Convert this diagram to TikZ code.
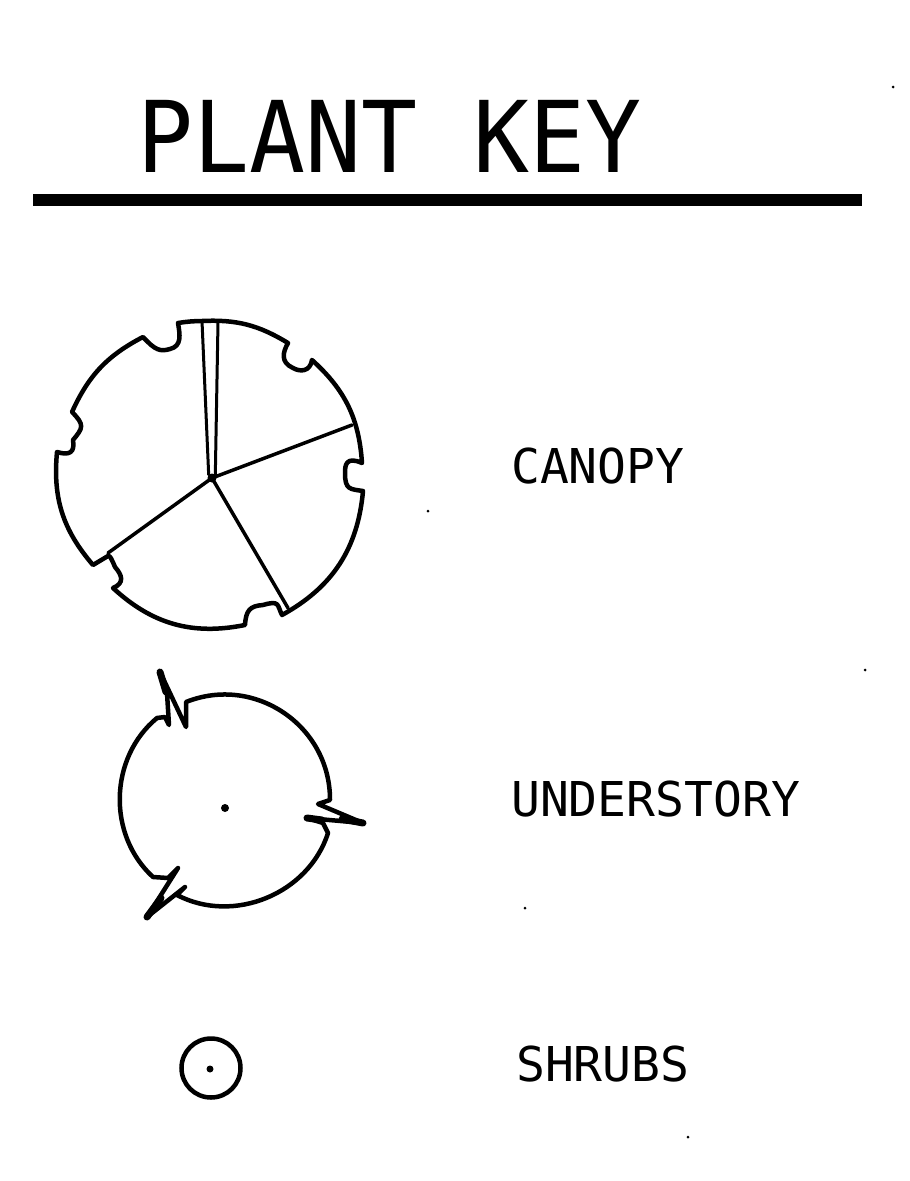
\documentclass[tikz,border=0pt]{standalone}
\usepackage{fontspec}
\setmainfont{DejaVu Sans Mono}
\newfontfamily\titlefont[FakeStretch=0.94]{DejaVu Sans Mono}
\usetikzlibrary{positioning}

\begin{document}
\begin{tikzpicture}[x=1pt, y=-1pt,
outline/.style = {line width=4.5pt, line cap=round, line join=round},
spoke/.style = {line width=3.5pt, line cap=round},
barb/.style = {line width=7pt, line cap=round},
dotmark/.style = {circle, fill=black, inner sep=0pt, minimum size=#1},
label/.style = {inner sep=0pt, anchor=west, font=\fontsize{48}{48}\selectfont}
]
\useasboundingbox (0,0) rectangle (910,1181);
% Draw the title and the rule under it
\node[inner sep=0pt, anchor=west, font=\titlefont\fontsize{99}{99}\selectfont] (title) at (137,136) {PLANT KEY};
\coordinate (R-1) at (33,200);
\coordinate (R-2) at (862,200);
\draw[line width=12pt] (R-1) -- (R-2);

% Draw the canopy outline with its five notches
\draw[outline] (178,323) to[bend left=4] (202,321) to[bend left=17] (288,343)
	.. controls (283,352) and (280,362) .. (293,368)
	.. controls (300,372) and (310,372) .. (312,360)
	to[bend left=22] (362,463)
	.. controls (346,456) and (345,465) .. (345,473)
	.. controls (345,490) and (350,489) .. (363,491)
	to[bend left=28] (282,615)
	.. controls (277,605) and (280,600) .. (263,605)
	.. controls (250,606) and (246,610) .. (245,625)
	to[bend left=27] (113,588)
	.. controls (125,583) and (122,575) .. (115,567)
	.. controls (112,560) and (110,555) .. (108,556)
	-- (93,565)
	to[bend left=23] (57,452)
	.. controls (70,456) and (75,452) .. (73,440)
	.. controls (83,428) and (85,425) .. (72,412)
	to[bend left=19] (143,337)
	.. controls (155,350) and (160,352) .. (170,349)
	.. controls (182,346) and (180,335) .. (178,323);
\node[dotmark=9pt] (C-hub) at (212,478) {};
% Connect the hub with the rim
\coordinate (C-1) at (202,321);
\coordinate (C-2) at (218,322);
\coordinate (C-3) at (352,425);
\coordinate (C-4) at (288,608);
\coordinate (C-5) at (108,553);
\draw[spoke, line width=3pt] (C-hub.north west) -- (C-1);
\draw[spoke, line width=3pt] (C-hub.north east) -- (C-2);
\foreach \i in {3,4,5}
\draw[spoke] (C-hub.center) -- (C-\i);

% Draw the understory outline with its three breaks
\draw[outline] (186,702) to[bend left=56, looseness=1.09] (330,800)
	-- (318,804) -- (363,823) -- (307,818) -- (323,823) -- (328,833)
	to[bend left=50] (177,895) -- (185,887)
	-- (147,917) -- (178,868) -- (168,878) -- (153,877)
	to[bend left=49] (157,718) -- (165,717) -- (169,725) -- (167,693) -- (160,672)
	-- (186,727) -- cycle;
% Thicken the barbs
\coordinate (B-1) at (160,672);
\coordinate (B-2) at (166,692);
\coordinate (B-3) at (363,823);
\coordinate (B-4) at (342,819);
\coordinate (B-5) at (307,818);
\coordinate (B-6) at (322,820);
\coordinate (B-7) at (147,917);
\coordinate (B-8) at (161,898);
\foreach \i/\j in {1/2, 3/4, 5/6, 7/8}
\draw[barb] (B-\i) -- (B-\j);
\node[dotmark=8pt] (U-dot) at (225,808) {};

% Draw the shrub symbol
\node[circle, draw, line width=4.5pt, minimum size=59pt, inner sep=0pt] (S-1) at (211,1068) {};
\node[dotmark=7pt] (S-dot) at (210,1069) {};

% Draw the labels
\node[label] (L-1) at (511,466) {CANOPY};
\node[label] (L-2) at (511,799) {UNDERSTORY};
\node[label] (L-3) at (516,1064) {SHRUBS};

% Draw the specks of the scan
\foreach \x/\y [count=\i] in {893/87, 428/511, 865/670, 525/908, 688/1137}
\node[dotmark=3pt] (P-\i) at (\x,\y) {};
\end{tikzpicture}
\end{document}
